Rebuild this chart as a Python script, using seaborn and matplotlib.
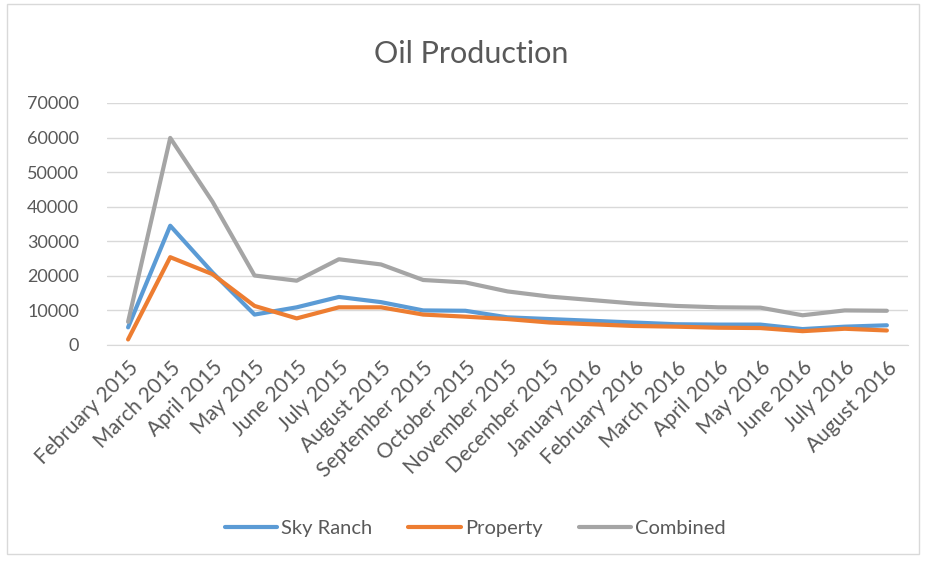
import matplotlib
matplotlib.use('Agg')
import matplotlib.pyplot as plt
import seaborn as sns
import pandas as pd
from matplotlib.patches import Rectangle

months = ['February 2015', 'March 2015', 'April 2015', 'May 2015', 'June 2015',
          'July 2015', 'August 2015', 'September 2015', 'October 2015',
          'November 2015', 'December 2015', 'January 2016', 'February 2016',
          'March 2016', 'April 2016', 'May 2016', 'June 2016', 'July 2016',
          'August 2016']
sky_ranch = [5100, 34500, 21000, 8800, 10900, 13900, 12400, 10000, 9900,
             8000, 7500, 7000, 6500, 6000, 5900, 5900, 4600, 5300, 5700]
property_ = [1600, 25400, 20500, 11300, 7700, 10900, 10900, 8800, 8200,
             7500, 6500, 6000, 5500, 5300, 5000, 4900, 4000, 4700, 4200]
combined = [6700, 59900, 41500, 20100, 18600, 24800, 23300, 18800, 18100,
            15500, 14000, 13000, 12000, 11300, 10900, 10800, 8600, 10000, 9900]

series = ['Sky Ranch', 'Property', 'Combined']
colors = ['#5B9BD5', '#ED7D31', '#A5A5A5']

df = pd.DataFrame({'month': months * 3,
                   'x': list(range(len(months))) * 3,
                   'value': sky_ranch + property_ + combined,
                   'series': [s for s in series for _ in months]})

sns.set_style('white')
plt.rcParams['font.family'] = ['Lato', 'DejaVu Sans']

fig = plt.figure(figsize=(9.28, 5.64), dpi=100)
ax = fig.add_axes([0.1153, 0.3883, 0.8631, 0.4291])

sns.lineplot(data=df, x='x', y='value', hue='series', hue_order=series,
             palette=colors, linewidth=3, ax=ax, legend=True)

ax.set_ylim(0, 70000)
ax.set_xlim(-0.5, len(months) - 0.5)
ax.set_yticks(range(0, 70001, 10000))
ax.yaxis.grid(True, color='#d9d9d9', linewidth=1)
ax.set_axisbelow(True)
for s in ['top', 'right', 'left']:
    ax.spines[s].set_visible(False)
ax.spines['bottom'].set_color('#d9d9d9')
ax.set_xticks(range(len(months)))
ax.set_xticklabels(months, rotation=45, ha='right', rotation_mode='anchor')
ax.set_xticks([i - 0.5 for i in range(len(months) + 1)], minor=True)
ax.tick_params(axis='x', which='major', length=0, pad=9, labelsize=15, colors='#595959')
ax.tick_params(axis='x', which='minor', length=6, color='#d9d9d9')
ax.tick_params(axis='y', length=0, labelsize=13, colors='#595959', pad=20)
ax.set_xlabel('')
ax.set_ylabel('')

ax.legend_.remove()
handles, labels = ax.get_legend_handles_labels()
fig.legend(handles, labels, loc='center', bbox_to_anchor=(0.512, 0.063), ncol=3,
           frameon=False, fontsize=14.5, handlelength=2.6, columnspacing=1.8,
           handletextpad=0.2, labelcolor='#595959')

fig.text(0.508, 0.905, 'Oil Production', ha='center', va='center',
         fontsize=22, color='#595959')

fig.patches.append(Rectangle((0.008, 0.018), 0.982, 0.975, transform=fig.transFigure,
                             fill=False, edgecolor='#d9d9d9', linewidth=1))

fig.savefig('out.png', dpi=100)
